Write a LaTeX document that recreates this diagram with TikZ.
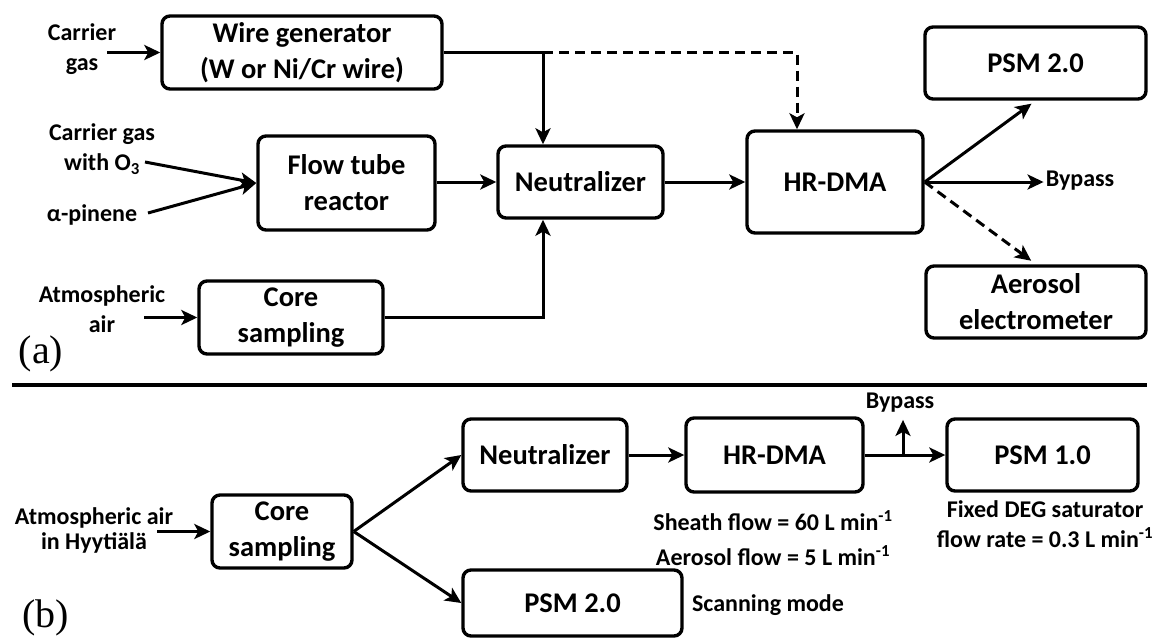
\documentclass[tikz,border=0pt]{standalone}
\usepackage{fontspec}
\setmainfont{Carlito}
\newfontfamily\panelfamily{Liberation Serif}
\usetikzlibrary{arrows.meta}
\newcommand{\blocktextfont}{\fontsize{28.5}{36}\selectfont\bfseries}
\newcommand{\flowtextfont}{\fontsize{24}{30}\selectfont\bfseries}
\tikzstyle{block}=[draw, line width=3.4pt, rounded corners=8pt, align=center, inner sep=0, font=\blocktextfont]
\tikzstyle{flowlabel}=[align=center, inner sep=2pt, font=\flowtextfont]
\tikzstyle{flow}=[line width=3pt, ->, >={Stealth[length=16pt,width=15pt,inset=4pt]}]
\tikzstyle{dashedflow}=[flow, dash pattern=on 10pt off 6pt]
\tikzstyle{panellabel}=[inner sep=0, font=\panelfamily\fontsize{40}{40}\selectfont]

\begin{document}
\begin{tikzpicture}[x=1pt, y=-1pt]
    \useasboundingbox (0,0) rectangle (1159,638);
    % (a) setup
    \node[block, minimum width=280, minimum height=73] (wiregen) at (302,52.5) {Wire generator\\(W or Ni/Cr wire)};
    \node[block, minimum width=177, minimum height=94] (flowtube) at (346.5,183) {Flow tube\\reactor};
    \node[block, minimum width=165, minimum height=72] (neutA) at (580.5,182) {Neutralizer};
    \node[block, minimum width=176, minimum height=102] (hrdmaA) at (835,182) {HR-DMA};
    \node[block, minimum width=221, minimum height=72] (psmA) at (1035.5,63) {PSM 2.0};
    \node[block, minimum width=220, minimum height=72] (aeroel) at (1036,302) {Aerosol\\electrometer};
    \node[block, minimum width=184, minimum height=73] (coreA) at (291,317.5) {Core\\sampling};

    \node[flowlabel] (carrier) at (82,49) {Carrier\\gas};
    \node[flowlabel] (ozone) at (102,149) {Carrier gas\\with O\textsubscript{3}};
    \node[flowlabel] (pinene) at (92,215) {α-pinene};
    \node[flowlabel] (airA) at (102,309) {Atmospheric\\air};
    \node[flowlabel] (bypassA) at (1080,181) {Bypass};
    \node[panellabel] (panelA) at (41,354) {(a)};

    \coordinate (carrierin) at (107,52.5);
    \coordinate (ozonein) at (145,162);
    \coordinate (pinenein) at (148,213);
    \coordinate (airAin) at (144,317.5);
    \coordinate (wirejoint) at (543,52.5);
    \coordinate (dashturn) at (797,52.5);

    \draw[flow] (carrierin) -- (wiregen.west);
    \draw[flow] (ozonein) -- (flowtube.west);
    \draw[flow] (pinenein) -- (flowtube.west);
    \draw[flow] (airAin) -- (coreA.west);
    \draw[line width=3pt] (wiregen.east) -- (wirejoint);
    \draw[flow] (wirejoint) -- (wirejoint |- neutA.north);
    \draw[dashedflow] (wirejoint) -- (dashturn) -- (dashturn |- hrdmaA.north);
    \draw[flow] (coreA.east) -| (wirejoint |- neutA.south);
    \draw[flow] (neutA.west -| flowtube.east) -- (neutA.west);
    \draw[flow] (neutA.east) -- (hrdmaA.west);
    \draw[flow, shorten >=5pt] (hrdmaA.east) -- (psmA.south);
    \draw[flow] (hrdmaA.east) -- (hrdmaA.east -| bypassA.west);
    \draw[dashedflow, shorten >=6pt] (hrdmaA.east) -- (aeroel.north);

    \draw[line width=3.4pt] (12,385) -- (1147,385);

    % (b) setup
    \node[block, minimum width=140, minimum height=73] (coreB) at (282,531.5) {Core\\sampling};
    \node[block, minimum width=164, minimum height=72] (neutB) at (545,455) {Neutralizer};
    \node[block, minimum width=177, minimum height=74] (hrdmaB) at (774.5,455) {HR-DMA};
    \node[block, minimum width=191, minimum height=72] (psm1) at (1042.5,455) {PSM 1.0};
    \node[block, minimum width=219, minimum height=66] (psmB) at (572.5,603) {PSM 2.0};

    \node[flowlabel, font=\fontsize{24}{25}\selectfont\bfseries] (airB) at (94,530) {Atmospheric air\\in Hyytiälä};
    \node[flowlabel, font=\fontsize{24}{35}\selectfont\bfseries] (dmaflows) at (773,538) {Sheath flow = 60 L min\textsuperscript{-1}\\Aerosol flow = 5 L min\textsuperscript{-1}};
    \node[flowlabel] (psmflow) at (1045,524) {Fixed DEG saturator\\flow rate = 0.3 L min\textsuperscript{-1}};
    \node[flowlabel] (scanning) at (768,605) {Scanning mode};
    \node[flowlabel] (bypassB) at (900,403) {Bypass};
    \node[panellabel] (panelB) at (46,618) {(b)};

    \coordinate (airBin) at (157,531.5);
    \coordinate (bypassjoint) at (903,455);

    \draw[flow] (airBin) -- (coreB.west);
    \draw[flow] (coreB.east) -- (neutB.west);
    \draw[flow] (coreB.east) -- (psmB.west);
    \draw[flow] (neutB.east) -- (hrdmaB.west);
    \draw[flow] (hrdmaB.east) -- (psm1.west);
    \draw[flow, shorten >=5pt] (bypassjoint) -- (bypassjoint |- bypassB.south);
\end{tikzpicture}
\end{document}
